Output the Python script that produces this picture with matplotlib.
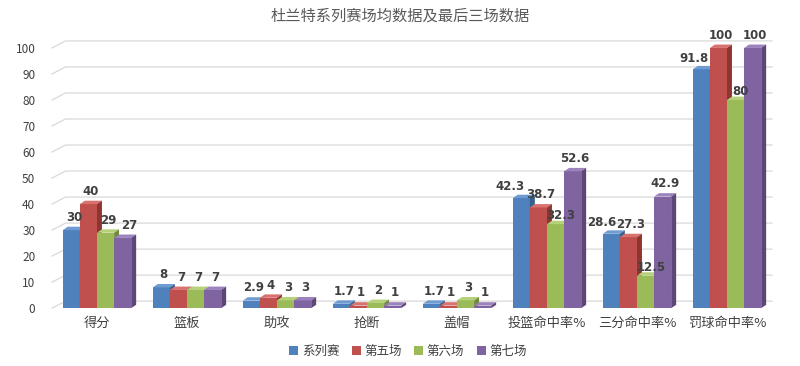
import matplotlib.pyplot as plt
from matplotlib.patches import Polygon, Rectangle
import numpy as np

plt.rcParams['font.family'] = ['Noto Sans CJK SC', 'DejaVu Sans']

categories = ['得分', '篮板', '助攻', '抢断', '盖帽', '投篮命中率%', '三分命中率%', '罚球命中率%']
series_names = ['系列赛', '第五场', '第六场', '第七场']
series_avg = [30, 8, 2.9, 1.7, 1.7, 42.3, 28.6, 91.8]
game5 = [40, 7, 4, 1, 1, 38.7, 27.3, 100]
game6 = [29, 7, 3, 2, 3, 32.3, 12.5, 80]
game7 = [27, 7, 3, 1, 1, 52.6, 42.9, 100]
values = [series_avg, game5, game6, game7]
yticks = list(range(0, 101, 10))

colors = ['#4F81BD', '#C0504D', '#9BBB59', '#8064A2']
tops = ['#6F9BD3', '#D9726F', '#B5D27A', '#9C83BE']
sides = ['#36608F', '#8E3532', '#718A3E', '#5C4777']

# 个别数据标签的偏移 (points): (系列索引, 类别索引) -> (dx, dy)
label_shift = {(0, 5): (-10, -1), (0, 6): (-9, -1), (0, 7): (-7, -1),
               (3, 0): (3, 0), (2, 5): (2, -3), (2, 6): (2, -3), (2, 7): (2, -3)}

fig = plt.figure(figsize=(8, 3.66), dpi=100)
ax = fig.add_axes([0.065, 0.158, 0.9, 0.711])
ax.set_xlim(-0.5, 7.5)
ax.set_ylim(0, 100)
for s in ax.spines.values():
    s.set_visible(False)

# 3D 背景墙网格线
dxw, dyw = 0.15, 2.7
for v in yticks:
    ax.plot([-0.5, -0.5 + dxw, 7.5], [v, v + dyw, v + dyw], color='#D9D9D9',
            lw=0.9, clip_on=False, zorder=0)

# 柱子 (带伪3D效果)
bw = 0.19
dx, dy = 0.055, 1.3
x = np.arange(len(categories))
for k in range(4):
    xs = x - 2 * bw + k * bw
    for i, v in enumerate(values[k]):
        x0 = xs[i]
        ax.add_patch(Rectangle((x0, 0), bw, v, facecolor=colors[k], edgecolor='none',
                               zorder=2 + k, clip_on=False))
        ax.add_patch(Polygon([(x0, v), (x0 + bw, v), (x0 + bw + dx, v + dy), (x0 + dx, v + dy)],
                             closed=True, facecolor=tops[k], edgecolor='none',
                             zorder=2 + k, clip_on=False))
        ax.add_patch(Polygon([(x0 + bw, 0), (x0 + bw + dx, dy), (x0 + bw + dx, v + dy), (x0 + bw, v)],
                             closed=True, facecolor=sides[k], edgecolor='none',
                             zorder=2 + k, clip_on=False))
        ox, oy = label_shift.get((k, i), (0, 0))
        ax.annotate(f'{v:g}', (x0 + bw / 2 + dx / 2, v + dy), xytext=(ox, 2 + oy),
                    textcoords='offset points', ha='center', va='bottom',
                    fontsize=8.5, color='#404040', fontweight='bold', zorder=10,
                    family=['DejaVu Sans'], annotation_clip=False)

ax.set_yticks(yticks)
ax.set_yticklabels([str(t) for t in yticks], fontsize=8.5, color='#404040')
ax.set_xticks(x)
ax.set_xticklabels(categories, fontsize=9.5, color='#404040')
ax.tick_params(length=0)
ax.tick_params(axis='x', pad=6)
ax.tick_params(axis='y', pad=12)

fig.text(0.5, 0.955, '杜兰特系列赛场均数据及最后三场数据', ha='center', va='center',
         fontsize=11, color='#595959')

handles = [Rectangle((0, 0), 1, 1, facecolor=c) for c in colors]
fig.legend(handles, series_names, loc='center', bbox_to_anchor=(0.51, 0.04), ncol=4,
           frameon=False, fontsize=9, handlelength=0.7, handleheight=0.7,
           handletextpad=0.3, columnspacing=1.0, labelcolor='#404040')

fig.savefig('out.png', dpi=100)
